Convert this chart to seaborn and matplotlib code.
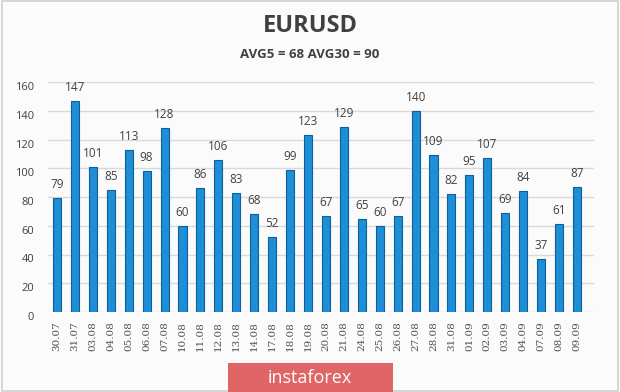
import matplotlib
matplotlib.use("Agg")
import matplotlib.pyplot as plt
import matplotlib.transforms as mtransforms
import seaborn as sns
import pandas as pd
from matplotlib.patches import Rectangle

dates = ["30.07", "31.07", "03.08", "04.08", "05.08", "06.08", "07.08", "10.08", "11.08", "12.08",
         "13.08", "14.08", "17.08", "18.08", "19.08", "20.08", "21.08", "24.08", "25.08", "26.08",
         "27.08", "28.08", "31.08", "01.09", "02.09", "03.09", "04.09", "07.09", "08.09", "09.09"]
values = [79, 147, 101, 85, 113, 98, 128, 60, 86, 106,
          83, 68, 52, 99, 123, 67, 129, 65, 60, 67,
          140, 109, 82, 95, 107, 69, 84, 37, 61, 87]
title = "EURUSD"
subtitle = "AVG5 = 68 AVG30 = 90"
yticks = [0, 20, 40, 60, 80, 100, 120, 140, 160]

sns.set_style("white")
plt.rcParams['font.family'] = ['Open Sans', 'DejaVu Sans']

df = pd.DataFrame({"date": dates, "value": values})

fig = plt.figure(figsize=(6.2, 3.92), dpi=100)
fig.patch.set_facecolor("#fbfbfb")
fig.patches.append(Rectangle((0.003, 0.003), 0.994, 0.994, transform=fig.transFigure,
                             fill=False, edgecolor="#cfcfcf", linewidth=1.2))

ax = fig.add_axes([48 / 620, 1 - 312 / 392, 546 / 620, 230 / 392])
ax.set_facecolor("none")
sns.barplot(data=df, x="date", y="value", color="#1e8fd6", width=0.45,
            edgecolor="#0d5f99", linewidth=0.8, saturation=1, ax=ax)
ax.set_ylim(0, 160)
ax.set_xlim(-0.5, 29.95)
ax.set_yticks(yticks)
ax.yaxis.grid(True, color="#d9d9d9", linewidth=1)
ax.set_axisbelow(True)
for s in ax.spines.values():
    s.set_visible(False)
ax.set_xlabel("")
ax.set_ylabel("")
ax.tick_params(axis="y", labelsize=8, labelcolor="#404040", length=0, pad=10)
ax.tick_params(axis="x", labelsize=7.5, labelcolor="#505050", length=0, pad=7, rotation=90)
offset = mtransforms.ScaledTranslation(0, -4 / 100, fig.dpi_scale_trans)
for lbl in ax.get_yticklabels():
    lbl.set_transform(lbl.get_transform() + offset)
for lbl in ax.get_xticklabels():
    lbl.set_family("DejaVu Serif")

for i, v in enumerate(values):
    ax.annotate(str(v), (i, v), xytext=(0, 5), textcoords="offset points",
                ha="center", va="bottom", fontsize=8.5, color="#404040")

fig.text(0.5, 1 - 26 / 392, title, ha="center", va="center", fontsize=17, fontweight="bold", color="#404040")
fig.text(0.5, 1 - 54 / 392, subtitle, ha="center", va="center", fontsize=9.5, fontweight="bold", color="#404040")

fig.patches.append(Rectangle((228 / 620, 0.0), (393 - 228) / 620, 29 / 392, transform=fig.transFigure,
                             facecolor="#e06567", edgecolor="none"))
fig.text(310 / 620, 14 / 392, "instaforex", ha="center", va="center", fontsize=13, color="white")

fig.savefig("out.png", dpi=100, facecolor=fig.get_facecolor())
